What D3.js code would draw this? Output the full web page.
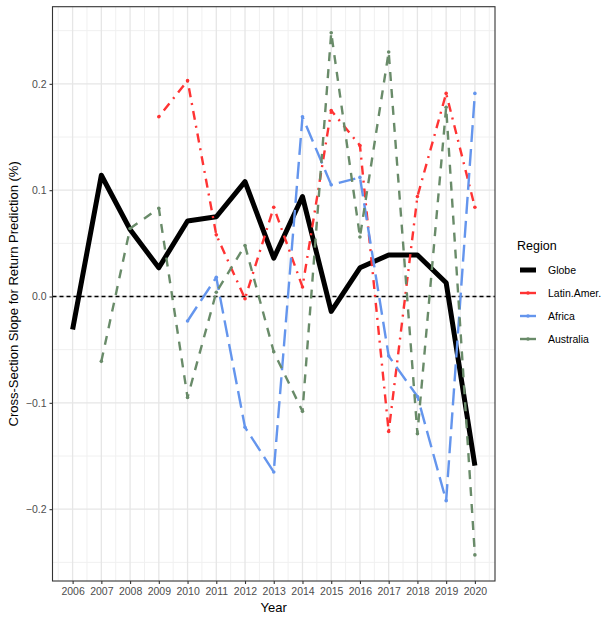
<!DOCTYPE html>
<html>
<head>
<meta charset="utf-8">
<script src="https://cdn.jsdelivr.net/npm/d3@7"></script>
<style>
  body { margin: 0; background: #fff; }
  svg { display: block; font-family: "Liberation Sans", Arial, sans-serif; }
</style>
</head>
<body>
<svg id="chart" width="613" height="618"></svg>
<script>
// Cross-section slope estimates per year, by region
const years = [2006, 2007, 2008, 2009, 2010, 2011, 2012, 2013, 2014, 2015, 2016, 2017, 2018, 2019, 2020];

const globe = [-0.031, 0.114, 0.063, 0.027, 0.071, 0.075, 0.108, 0.036, 0.094, -0.014, 0.027, 0.039, 0.039, 0.013, -0.159];
const latinAmer = [null, null, null, 0.169, 0.203, 0.058, -0.002, 0.084, 0.009, 0.175, 0.142, -0.127, 0.094, 0.191, 0.084];
const africa = [null, null, null, null, -0.023, 0.018, -0.123, -0.165, 0.169, 0.105, 0.112, -0.056, -0.094, -0.192, 0.191];
const australia = [null, -0.061, 0.064, 0.083, -0.095, 0.004, 0.048, -0.052, -0.108, 0.248, 0.056, 0.230, -0.129, 0.178, -0.243];

const yTicks = [-0.2, -0.1, 0.0, 0.1, 0.2];
const yMinor = [-0.25, -0.15, -0.05, 0.05, 0.15, 0.25];

const seriesNames = ["Globe", "Latin.Amer.", "Africa", "Australia"];
const seriesValues = [globe, latinAmer, africa, australia];
const seriesColors = ["#000000", "#FF3333", "#6495ED", "#698B69"];
const seriesWidths = [5, 2.4, 2.4, 2.4];
const seriesDash = [null, "2,6,9,6", "17,7", "9,8"];

const svg = d3.select("#chart");
const panel = { left: 52.5, top: 6.7, right: 495, bottom: 581 };

const x = d3.scaleLinear().domain([2005.3, 2020.7]).range([panel.left, panel.right]);
const allVals = seriesValues.flat().filter(v => v != null);
const ext = d3.extent(allVals);
const pad = (ext[1] - ext[0]) * 0.05;
const y = d3.scaleLinear().domain([ext[0] - pad, ext[1] + pad]).range([panel.bottom, panel.top]);

// panel background and grid
svg.append("rect")
  .attr("x", panel.left).attr("y", panel.top)
  .attr("width", panel.right - panel.left).attr("height", panel.bottom - panel.top)
  .attr("fill", "#fff");

const grid = svg.append("g");
const xMinor = d3.range(2005.5, 2021, 1);
grid.selectAll(".vminor").data(xMinor).join("line")
  .attr("x1", d => x(d)).attr("x2", d => x(d))
  .attr("y1", panel.top).attr("y2", panel.bottom)
  .attr("stroke", "#f0f0f0").attr("stroke-width", 1);
grid.selectAll(".hminor").data(yMinor).join("line")
  .attr("y1", d => y(d)).attr("y2", d => y(d))
  .attr("x1", panel.left).attr("x2", panel.right)
  .attr("stroke", "#f0f0f0").attr("stroke-width", 1);
grid.selectAll(".vmajor").data(years).join("line")
  .attr("x1", d => x(d)).attr("x2", d => x(d))
  .attr("y1", panel.top).attr("y2", panel.bottom)
  .attr("stroke", "#e6e6e6").attr("stroke-width", 1.3);
grid.selectAll(".hmajor").data(yTicks).join("line")
  .attr("y1", d => y(d)).attr("y2", d => y(d))
  .attr("x1", panel.left).attr("x2", panel.right)
  .attr("stroke", "#e6e6e6").attr("stroke-width", 1.3);

// zero reference line
svg.append("line")
  .attr("x1", panel.left).attr("x2", panel.right)
  .attr("y1", y(0)).attr("y2", y(0))
  .attr("stroke", "#000").attr("stroke-width", 1.3)
  .attr("stroke-dasharray", "4,3");

// series lines and points
const line = d3.line()
  .defined(d => d.v != null)
  .x(d => x(d.year)).y(d => y(d.v));

seriesValues.forEach((vals, i) => {
  const pts = years.map((yr, j) => ({ year: yr, v: vals[j] }));
  const path = svg.append("path")
    .datum(pts)
    .attr("d", line)
    .attr("fill", "none")
    .attr("stroke", seriesColors[i])
    .attr("stroke-width", seriesWidths[i])
    .attr("stroke-linejoin", "round");
  if (seriesDash[i]) path.attr("stroke-dasharray", seriesDash[i]);
  if (i > 0) {
    svg.append("g").selectAll("circle")
      .data(pts.filter(d => d.v != null))
      .join("circle")
      .attr("cx", d => x(d.year)).attr("cy", d => y(d.v))
      .attr("r", 1.8)
      .attr("fill", seriesColors[i]);
  }
});

// panel border
svg.append("rect")
  .attr("x", panel.left).attr("y", panel.top)
  .attr("width", panel.right - panel.left).attr("height", panel.bottom - panel.top)
  .attr("fill", "none").attr("stroke", "#333").attr("stroke-width", 1.1);

// axes
const xAxis = d3.axisBottom(x).tickValues(years).tickFormat(d3.format("d")).tickSize(3).tickPadding(4);
const yAxis = d3.axisLeft(y).tickValues(yTicks).tickFormat(d3.format(".1f")).tickSize(3).tickPadding(3);

const gx = svg.append("g").attr("transform", `translate(0,${panel.bottom})`).call(xAxis);
const gy = svg.append("g").attr("transform", `translate(${panel.left},0)`).call(yAxis);
[gx, gy].forEach(g => {
  g.select(".domain").remove();
  g.selectAll(".tick line").attr("stroke", "#333").attr("stroke-width", 1.1);
  g.selectAll(".tick text").attr("fill", "#4d4d4d").style("font-size", "10.5px")
    .style("font-family", "Liberation Sans, Arial, sans-serif");
});

// axis titles
svg.append("text")
  .attr("x", (panel.left + panel.right) / 2).attr("y", 612)
  .attr("text-anchor", "middle").style("font-size", "13px").attr("fill", "#000")
  .text("Year");
svg.append("text")
  .attr("transform", `translate(18,${(panel.top + panel.bottom) / 2}) rotate(-90)`)
  .attr("text-anchor", "middle").style("font-size", "13px").attr("fill", "#000")
  .text("Cross-Section Slope for Return Prediction (%)");

// legend
const legend = svg.append("g").attr("transform", "translate(517,0)");
legend.append("text").attr("x", 0).attr("y", 250)
  .style("font-size", "12.5px").attr("fill", "#000").text("Region");
seriesNames.forEach((name, i) => {
  const cy = 270 + i * 23;
  legend.append("line")
    .attr("x1", 3).attr("x2", 19).attr("y1", cy).attr("y2", cy)
    .attr("stroke", seriesColors[i]).attr("stroke-width", i === 0 ? 5 : 2.4);
  if (i > 0) {
    legend.append("circle").attr("cx", 11).attr("cy", cy).attr("r", 1.8).attr("fill", seriesColors[i]);
  }
  legend.append("text").attr("x", 31).attr("y", cy + 4)
    .style("font-size", "10.5px").attr("fill", "#000").text(name);
});
</script>
</body>
</html>
